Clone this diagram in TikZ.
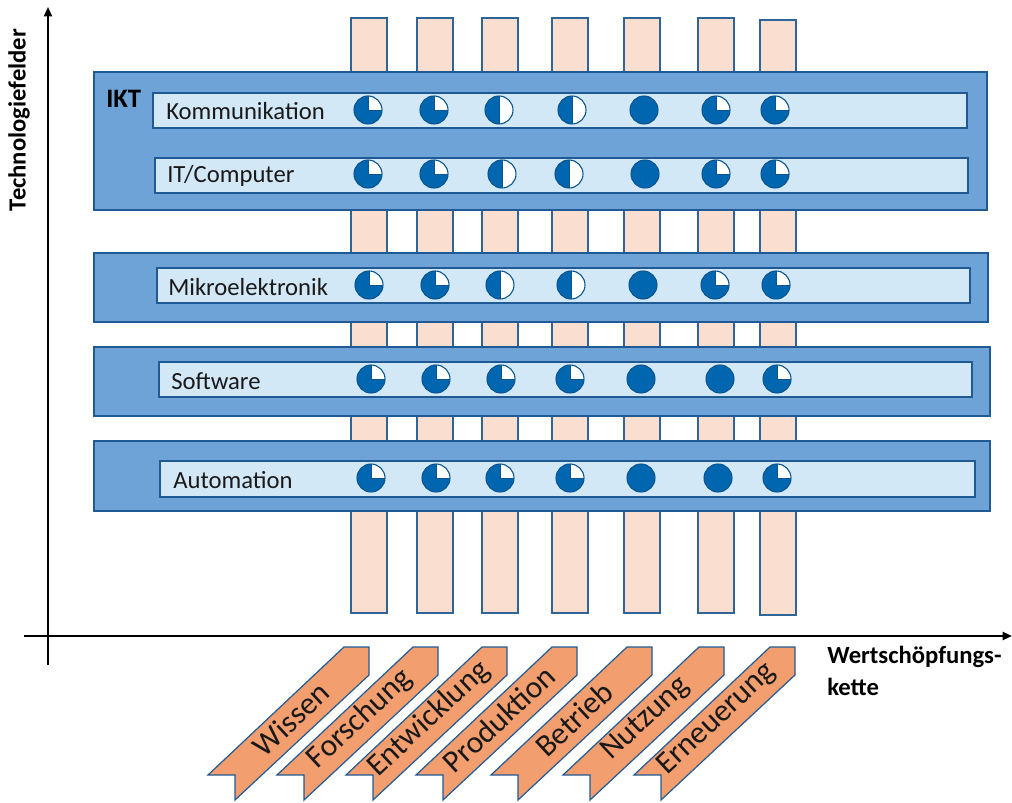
\documentclass[tikz,border=0pt]{standalone}
\usepackage{fontspec}
\setmainfont{Carlito}
\usetikzlibrary{arrows.meta}
\definecolor{bandfill}{HTML}{6EA3D7}
\definecolor{bandline}{HTML}{1F5A94}
\definecolor{innerfill}{HTML}{D3E8F6}
\definecolor{barfill}{HTML}{FADFD1}
\definecolor{barline}{HTML}{2E6496}
\definecolor{arrfill}{HTML}{F29E6F}
\definecolor{pieblue}{HTML}{0066B0}
\definecolor{pieedge}{HTML}{0A5590}
\tikzset{
  chainbar/.style={fill=barfill, draw=barline, line width=0.9pt},
  outerband/.style={fill=bandfill, draw=bandline, line width=1pt},
  innerband/.style={fill=innerfill, draw=bandline, line width=1pt},
  rowlabel/.style={anchor=west, inner sep=0pt, font=\fontsize{18.5}{22}\selectfont, text=black!90},
  arrowshape/.style={fill=arrfill, draw=bandline, line width=0.9pt, line join=miter},
  arrtext/.style={rotate=43, inner sep=0pt, font=\fontsize{23.5}{26}\selectfont, text=black!90},
  axisline/.style={line width=1.5pt, -{Triangle[length=7pt,width=6pt]}},
  axislabel/.style={font=\bfseries\fontsize{18.5}{23}\selectfont, inner sep=0pt},
  pfull/.pic={\fill[pieblue] (0,0) circle[radius=14];
              \draw[pieedge, line width=0.8pt] (0,0) circle[radius=14];},
  pthree/.pic={\fill[pieblue] (0,0) circle[radius=14];
               \fill[white] (0,0) -- (14,0) arc[start angle=0, end angle=-90, radius=14] -- cycle;
               \draw[pieedge, line width=0.6pt] (14,0) -- (0,0) -- (0,-14);
               \draw[pieedge, line width=0.8pt] (0,0) circle[radius=14];},
  phalf/.pic={\fill[pieblue] (0,0) circle[radius=14];
              \fill[white] (0,-14) arc[start angle=-90, end angle=90, radius=14] -- cycle;
              \draw[pieedge, line width=0.6pt] (0,-14) -- (0,14);
              \draw[pieedge, line width=0.8pt] (0,0) circle[radius=14];},
}
\begin{document}
\begin{tikzpicture}[x=0.75pt, y=-0.75pt]
\useasboundingbox (0,0) rectangle (1012,802);

% vertical value-chain bars
\foreach \a/\b/\t/\u in {351/387/18/613, 417/453/18/613, 482/518/18/613, 552/588/18/613,
                         624/660/18/613, 698/734/18/613, 760/796/20/615}
  \draw[chainbar] (\a,\t) rectangle (\b,\u);

% outer bands
\draw[outerband] (94,72) rectangle (987,210);
\draw[outerband] (94,253) rectangle (988,322);
\draw[outerband] (94,347) rectangle (990,416);
\draw[outerband] (94,441) rectangle (990,511);

% inner bands
\draw[innerband] (153,93) rectangle (967,128);
\draw[innerband] (155,158) rectangle (968,193);
\draw[innerband] (157,268) rectangle (970,303);
\draw[innerband] (159,362) rectangle (972,397);
\draw[innerband] (160,461) rectangle (975,497);

% labels
\node[anchor=north west, inner sep=0pt, font=\bfseries\fontsize{20}{24}\selectfont] (ikt) at (106,90) {IKT};
\node[rowlabel] (komm) at (166,111) {Kommunikation};
\node[rowlabel] (itc) at (167,176) {IT/Computer};
\node[rowlabel] (mikro) at (168,287) {Mikroelektronik};
\node[rowlabel] (soft) at (171,381) {Software};
\node[rowlabel] (auto) at (173,480) {Automation};

% rating circles
\foreach \x/\p in {368/pthree, 434/pthree, 499/phalf, 572/phalf, 644/pfull, 716/pthree, 775/pthree}
  \pic at (\x,110) {\p};
\foreach \x/\p in {368/pthree, 434/pthree, 502/phalf, 569/phalf, 645/pfull, 716/pthree, 775/pthree}
  \pic at (\x,174) {\p};
\foreach \x/\p in {369/pthree, 435/pthree, 500/phalf, 571/phalf, 643/pfull, 715/pthree, 776/pthree}
  \pic at (\x,285) {\p};
\foreach \x/\p in {371/pthree, 436/pthree, 501/pthree, 570/pthree, 641/pfull, 720/pfull, 777/pthree}
  \pic at (\x,379) {\p};
\foreach \x/\p in {371/pthree, 436/pthree, 500/pthree, 570/pthree, 641/pfull, 718/pfull, 777/pthree}
  \pic at (\x,478) {\p};

% axes
\coordinate (ybot) at (48,665);
\coordinate (ytop) at (48,7);
\coordinate (xleft) at (24,636);
\coordinate (xright) at (1012,636);
\draw[axisline] (ybot) -- (ytop);
\draw[axisline] (xleft) -- (xright);
\node[axislabel, rotate=90] (ylab) at (19,120) {Technologiefelder};
\node[axislabel, anchor=base west] (xlab1) at (827,663) {Wertschöpfungs-};
\node[axislabel, anchor=base west] (xlab2) at (827,695) {kette};

% value chain arrows
\foreach \xt/\lab/\nm in {369/Wissen/a1, 438/Forschung/a2, 507/Entwicklung/a3, 577/Produktion/a4,
                          652/Betrieb/a5, 724/Nutzung/a6, 795/Erneuerung/a7} {
  \draw[arrowshape] (\xt-25,647) -- (\xt,647) -- (\xt,675) -- (\xt-134,800)
                    -- (\xt-134,775) -- (\xt-161,775) -- cycle;
  \node[arrtext] (\nm) at (\xt-78,719) {\lab};
}
\end{tikzpicture}
\end{document}
